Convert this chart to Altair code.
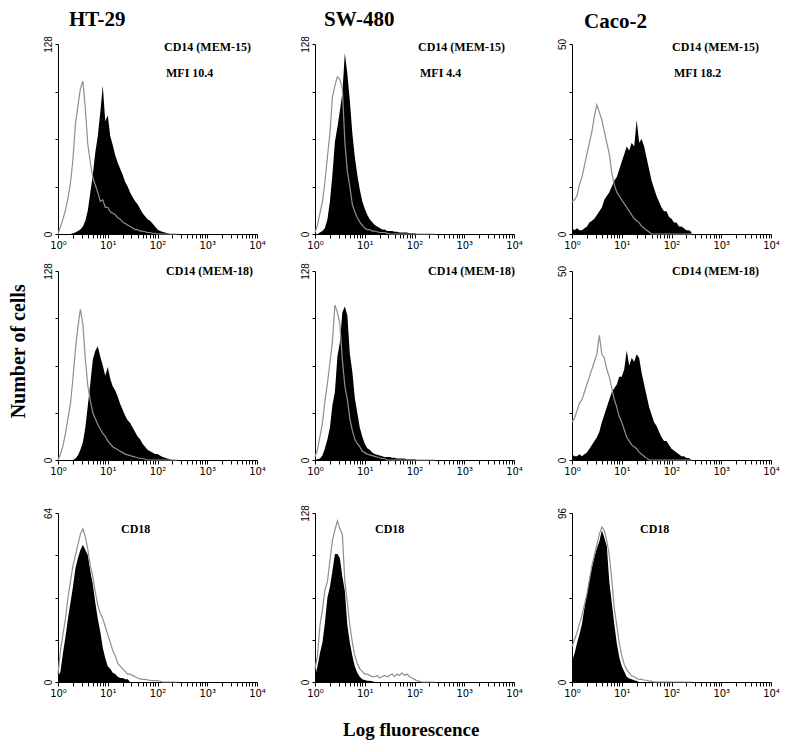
import math
import altair as alt
import pandas as pd

# ---------------- data ----------------
STEP = 0.05
N = 49
log_x = [round(i * STEP, 2) for i in range(N)]  # log10 fluorescence, 10^0 .. 10^2.4

cell_lines = ["HT-29", "SW-480", "Caco-2"]
row_labels = ["CD14 (MEM-15)", "CD14 (MEM-18)", "CD18"]
mfi_labels = ["MFI 10.4", "MFI 4.4", "MFI 18.2"]
y_max = [[128, 128, 50], [128, 128, 50], [64, 128, 96]]
x_tick_labels = ["10\u2070", "10\u00b9", "10\u00b2", "10\u00b3", "10\u2074"]

# row 1: CD14 (MEM-15)
ht29_mem15_ctrl = [0, 5, 10, 16, 24, 34, 50, 74, 86, 98, 103, 84, 60, 48, 38, 33, 28, 22, 23, 18,
                   18, 15, 14, 13, 11, 10, 8, 7, 6, 5, 4, 3, 3, 2, 2, 1.5, 1, 1, 0.5, 0.5]
ht29_mem15_stain = [0, 0, 0, 0, 0, 0, 0.5, 1, 2, 3, 5, 9, 16, 28, 40, 55, 66, 82, 100, 76,
                    80, 66, 60, 53, 48, 44, 40, 35, 32, 28, 25, 22, 20, 17, 14, 12, 10, 9, 7, 5,
                    3, 2, 1.5, 1, 0.5]
sw480_mem15_ctrl = [1, 6, 14, 22, 35, 52, 68, 92, 100, 106, 104, 98, 62, 42, 32, 20, 15, 11, 8, 6,
                    4, 3, 3, 2, 2, 1.5, 1, 1, 1, 0.5]
sw480_mem15_stain = [0, 0, 1, 2, 4, 10, 22, 40, 62, 72, 83, 95, 122, 108, 90, 68, 52, 40, 30, 22,
                     17, 13, 10, 8, 6, 5, 4, 3, 3, 2, 2, 2, 1.5, 1.5, 1, 1, 1, 1, 0.5, 0.5, 0.5]
caco2_mem15_ctrl = [8.5, 9, 10, 13, 15, 18, 21, 24, 27, 31, 34, 32, 30, 27, 24, 21, 16, 13, 11, 10,
                    9, 8, 7, 6, 5, 4, 3.5, 3, 2, 1.5, 1, 0.5]
caco2_mem15_stain = [1.5, 1, 1.5, 1, 1, 1.5, 2, 3, 3.5, 4, 5, 6, 7, 9, 10, 11, 12.5, 14, 15, 17,
                     19, 21, 23, 22, 24, 23, 30, 24, 25, 23, 20, 17, 14, 12, 10, 8.5, 7, 6, 6, 4.5,
                     4, 3, 3, 2, 2, 1.5, 1, 1, 0.5]

# row 2: CD14 (MEM-18)
ht29_mem18_ctrl = [0, 4, 9.5, 18, 28, 38, 55, 75, 90, 102, 92, 68, 50, 40, 32, 28, 24, 21, 18, 16,
                   13, 11, 9, 8, 7, 6, 5, 4, 3.5, 3, 2.5, 2, 1.5, 1, 1, 0.5]
ht29_mem18_stain = [0, 0, 0, 0, 0, 0, 0, 1, 3, 7, 12, 22, 37, 52, 68, 74, 77, 70, 64, 57,
                    63, 55, 50, 47, 43, 38, 34, 30, 27, 25, 22, 19, 16, 14, 11, 9, 7, 6, 5, 4,
                    4, 3, 2, 1.5, 1, 0.5]
sw480_mem18_ctrl = [2, 7, 16, 25, 40, 52, 66, 80, 105, 100, 92, 68, 50, 41, 28, 20, 14, 11, 9, 6,
                    5, 4, 3.5, 3, 2.5, 2, 1.5, 1, 1]
sw480_mem18_stain = [0, 0.5, 1, 3, 8, 14, 22, 37, 46, 70, 80, 100, 104, 98, 72, 60, 42, 32, 22, 16,
                     11, 8, 7, 5, 4, 3.5, 3, 2.5, 2, 2, 2, 1.5, 1.5, 1, 1, 1, 1, 0.5, 0.5, 0.5, 0.5]
caco2_mem18_ctrl = [10, 11, 13, 15, 16, 18, 20, 22, 24, 26, 28, 33, 28, 27, 24, 22, 19, 16, 14, 11.5,
                    10, 8, 6, 5, 4, 3.5, 3, 2, 1.5, 1, 0.5]
caco2_mem18_stain = [1.5, 1, 1, 1.5, 1, 1.5, 2, 3, 4, 5, 6, 7.5, 10, 12, 14, 16, 18, 19, 20, 22,
                     22, 24, 29, 25, 27, 26, 28, 27, 23, 20, 17, 14, 12, 10, 9, 7.5, 6, 5, 5, 4,
                     3, 2.5, 2, 1.5, 1, 1, 0.5, 0.5, 0]

# row 3: CD18
ht29_cd18_ctrl = [3, 12, 18, 24, 32, 38, 44, 48, 52, 56, 58, 55, 50, 44, 40, 34, 29, 26, 24, 21,
                  18, 15, 12, 10, 7, 6, 5, 4, 3, 3, 2.5, 2, 1.5, 1.2, 1, 1, 0.8, 0.6, 0.5, 0.5,
                  0.5, 0.3]
ht29_cd18_stain = [2, 4, 11, 17, 24, 30, 36, 43, 47, 50, 52, 50, 48, 42, 37, 30, 24, 19, 13, 9,
                   6, 5, 3.5, 3, 2, 1.5, 1.5, 1, 1]
sw480_cd18_ctrl = [10, 20, 43, 55, 70, 76, 92, 107, 115, 122, 116, 112, 76, 60, 43, 30, 20, 14, 10, 8,
                   6, 6, 5, 4, 4, 5, 3, 4, 5, 4, 5, 6, 4, 6, 5, 7, 5, 6, 4, 3,
                   2, 1, 0.5]
sw480_cd18_stain = [4, 12, 22, 30, 45, 64, 72, 84, 97, 97, 94, 80, 69, 43, 30, 20, 12, 7, 4, 2,
                    1.5, 1, 1, 0.5]
caco2_cd18_ctrl = [20, 24, 28, 33, 38, 44, 50, 58, 66, 72, 78, 84, 88, 86, 80, 72, 58, 42, 32, 22,
                   15, 10, 7, 5, 3.5, 3, 2, 1.5, 1.5, 1, 1, 0.5, 0.5]
caco2_cd18_stain = [12, 16, 22, 27, 33, 42, 50, 59, 65, 71, 76, 80, 86, 82, 77, 57, 45, 33, 22, 14,
                    9, 6, 3, 2, 1.5, 1, 0.5]

controls = [[ht29_mem15_ctrl, sw480_mem15_ctrl, caco2_mem15_ctrl],
            [ht29_mem18_ctrl, sw480_mem18_ctrl, caco2_mem18_ctrl],
            [ht29_cd18_ctrl, sw480_cd18_ctrl, caco2_cd18_ctrl]]
stains = [[ht29_mem15_stain, sw480_mem15_stain, caco2_mem15_stain],
          [ht29_mem18_stain, sw480_mem18_stain, caco2_mem18_stain],
          [ht29_cd18_stain, sw480_cd18_stain, caco2_cd18_stain]]

# ---------------- layout / style ----------------
PANEL_W = 199
ROW_H = [190, 189, 169]
ROW_SPACING = [12, 28]
LABEL_X = [[106, 103, 100], [108, 113, 100], [63, 60, 68]]
LABEL_Y = [3, 0, 16]
TITLE_DX = [26, 24, 27]
SERIF = "Liberation Serif"
SANS = "Liberation Sans"

x_ticks = []
for d in range(4):
    x_ticks.append(float(d))
    for k in range(2, 10):
        x_ticks.append(round(d + math.log10(k), 4))
x_ticks.append(4.0)

x_label_expr = " : ".join(
    [f"datum.value == {i} ? '{lab}'" for i, lab in enumerate(x_tick_labels)]) + " : ''"


def pad(v):
    return list(v) + [0] * (N - len(v))


def make_axes(ymax):
    xaxis = alt.Axis(values=x_ticks, labelExpr=x_label_expr, grid=False, tickSize=4,
                     tickColor="black", domainColor="black", labelFont="DejaVu Sans",
                     labelFontSize=10, labelColor="black", labelFlush=False, labelPadding=2,
                     labelOverlap=False, labelBound=False)
    yaxis = alt.Axis(values=[0, ymax / 4, ymax / 2, 3 * ymax / 4, ymax],
                     labelExpr=f"datum.value == 0 || datum.value == {ymax} ? datum.label : ''",
                     grid=False, tickSize=3, tickColor="black", domainColor="black",
                     labelFont=SANS, labelFontSize=10, labelColor="black", labelAngle=270,
                     labelAlign="center", labelBaseline="bottom", labelFlush=False,
                     labelPadding=2, labelOverlap=False)
    return xaxis, yaxis


def panel(r, c):
    ymax = y_max[r][c]
    h = ROW_H[r]
    df = pd.DataFrame({"x": log_x, "stain": pad(stains[r][c]), "ctrl": pad(controls[r][c])})
    xaxis, yaxis = make_axes(ymax)
    xs = alt.Scale(domain=[0, 4], nice=False, zero=False)
    ys = alt.Scale(domain=[0, ymax], nice=False)
    base = alt.Chart(df)
    area = base.mark_area(color="black", interpolate="linear").encode(
        x=alt.X("x:Q", scale=xs, axis=xaxis, title=None),
        y=alt.Y("stain:Q", scale=ys, axis=yaxis, title=None),
    )
    line = base.mark_line(color="#8f8f8f", strokeWidth=1.2, interpolate="linear").encode(
        x=alt.X("x:Q", scale=xs, axis=xaxis, title=None),
        y=alt.Y("ctrl:Q", scale=ys, axis=yaxis, title=None),
    )
    layers = [area, line]
    lab = alt.Chart(pd.DataFrame({"t": [row_labels[r]]})).mark_text(
        font=SERIF, fontSize=12, fontWeight="bold", align="left", baseline="middle", color="black"
    ).encode(text="t:N", x=alt.value(LABEL_X[r][c]), y=alt.value(LABEL_Y[r]))
    layers.append(lab)
    if r == 0:
        mfi = alt.Chart(pd.DataFrame({"t": [mfi_labels[c]]})).mark_text(
            font=SERIF, fontSize=12, fontWeight="bold", align="left", baseline="middle", color="black"
        ).encode(text="t:N", x=alt.value(LABEL_X[r][c] + 2), y=alt.value(29))
        layers.append(mfi)
    ch = alt.layer(*layers).properties(width=PANEL_W, height=h)
    if r == 0:
        ch = ch.properties(title=alt.TitleParams(
            text=cell_lines[c], anchor="start", dx=TITLE_DX[c], fontSize=21, font=SERIF,
            fontWeight="bold", color="black", offset=6))
    return ch


rows = [alt.hconcat(*[panel(r, c) for c in range(3)], spacing=58, bounds="flush")
        for r in range(3)]
grid = alt.vconcat(
    rows[0],
    alt.vconcat(rows[1], rows[2], spacing=ROW_SPACING[1]),
    spacing=ROW_SPACING[0],
).properties(
    title=alt.TitleParams(text="Log fluorescence", orient="bottom", anchor="middle",
                          fontSize=19, font=SERIF, fontWeight="bold", color="black", offset=23))
chart = alt.hconcat(grid).properties(
    title=alt.TitleParams(text="Number of cells", orient="left", anchor="middle",
                          fontSize=20, font=SERIF, fontWeight="bold", color="black", offset=14,
                          dx=23),
    padding={"left": 0, "top": 0, "right": 5, "bottom": 5},
).configure_view(strokeWidth=0).configure_axis(grid=False)

chart.save("out.html", embed_options={"renderer": "svg", "actions": False})
